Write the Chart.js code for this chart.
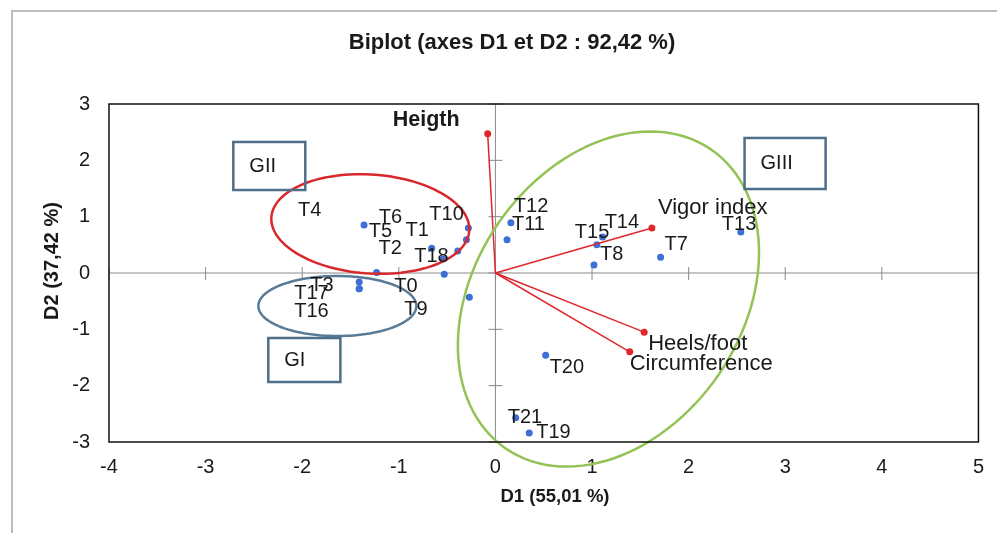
<!DOCTYPE html>
<html>
<head>
<meta charset="utf-8">
<title>Biplot</title>
<script src="https://cdn.jsdelivr.net/npm/chart.js@4.4.1/dist/chart.umd.min.js"></script>
<style>
  body { margin: 0; background: #fff; }
  #wrap { width: 997px; height: 533px; }
</style>
</head>
<body>
<div id="wrap"><canvas id="chart" width="997" height="533"></canvas></div>
<script>
// observations (F1 / F2 scores)
var obsNames = ["T0", "T1", "T2", "T3", "T4", "T5", "T6", "T7", "T8", "T9", "T10",
                "T11", "T12", "T13", "T14", "T15", "T16", "T17", "T18", "T19", "T20", "T21"];
var obsX = [-0.53, -0.30, -1.23, -1.41, -1.36, -0.66, -0.39, 1.71, 1.02, -0.27, -0.28,
            0.12, 0.16, 2.54, 1.11, 1.05, -1.41, -1.41, -0.54, 0.35, 0.52, 0.21];
var obsY = [-0.02, 0.59, 0.01, -0.16, 0.85, 0.44, 0.39, 0.28, 0.14, -0.43, 0.80,
            0.59, 0.89, 0.73, 0.64, 0.50, -0.28, -0.28, 0.25, -2.84, -1.46, -2.57];

// variables (vectors from origin)
var varNames = ["Heigth", "Vigor index", "Heels/foot", "Circumference"];
var varX = [-0.08, 1.62, 1.54, 1.39];
var varY = [2.47, 0.80, -1.05, -1.40];

var xTicks = [-4, -3, -2, -1, 0, 1, 2, 3, 4, 5];
var yTicks = [-3, -2, -1, 0, 1, 2, 3];

var groupNames = ["GI", "GII", "GIII"];

// group outlines: ellipse centre + two conjugate half axes (axis units)
var groupEllipses = [
    { c: [-1.636, -0.586], u: [0.818, 0], v: [0, 0.533], color: "#587b97" },
    { c: [-1.295, 0.87], u: [1.025, -0.09], v: [0, 0.88], color: "#d8282c" },
    { c: [1.170, -0.462], u: [1.061, 2.656], v: [1.142, -1.340], color: "#93c356" }
];
// group name boxes [xmin, xmax, ymin, ymax] in axis units
var groupBoxes = [
    [-2.351, -1.605, -1.935, -1.154],
    [-2.713, -1.968, 1.473, 2.326],
    [2.579, 3.418, 1.491, 2.397]
];

// label nudges in pixels (left edge, vertical middle) from each marker
var obsNudge = {
    T0: [-50, 12], T1: [-61, -9], T2: [2, -24], T3: [-49, 3], T4: [-66, -15],
    T5: [-63, -17], T6: [-79, -34], T7: [4, -13], T8: [6, -11], T9: [-65, 12],
    T10: [-39, -13], T11: [5, -15], T12: [3, -16], T13: [-19, -7], T14: [2, -14],
    T15: [-22, -12], T16: [-65, 23], T17: [-65, 5], T18: [-29, -2], T19: [7, -1],
    T20: [4, 12], T21: [-8, 0]
};
var varNudge = [[-95, -14], [6, -20], [4, 12], [0, 12]];

var FONT = "'Liberation Sans', Arial, sans-serif";
var textColor = "#1a1a1a";

var datasets = [];
varNames.forEach(function(name, i) {
    datasets.push({
        label: name,
        data: [{x: 0, y: 0}, {x: varX[i], y: varY[i]}],
        showLine: true,
        borderColor: "#e0282c",
        borderWidth: 1.5,
        backgroundColor: "#e0282c",
        pointRadius: [0, 3.5],
        pointBorderWidth: 0
    });
});
datasets.push({
    label: "Observations",
    data: obsNames.map(function(n, i) { return {x: obsX[i], y: obsY[i]}; }),
    backgroundColor: "#3e6fd6",
    borderWidth: 0,
    pointRadius: 3.5
});

function px(chart, x, y) {
    return [chart.scales.x.getPixelForValue(x), chart.scales.y.getPixelForValue(y)];
}

var biplotPlugin = {
    id: 'biplot',
    beforeDatasetsDraw: function(chart) {
        var ctx = chart.ctx, a = chart.chartArea;
        var o = px(chart, 0, 0);
        ctx.save();
        ctx.strokeStyle = "#8a8a8a";
        ctx.lineWidth = 1;
        ctx.beginPath();
        ctx.moveTo(a.left, o[1]); ctx.lineTo(a.right, o[1]);
        ctx.moveTo(o[0], a.top); ctx.lineTo(o[0], a.bottom);
        xTicks.forEach(function(t) {
            var p = px(chart, t, 0);
            ctx.moveTo(p[0], o[1] - 6); ctx.lineTo(p[0], o[1] + 7);
        });
        yTicks.forEach(function(t) {
            var p = px(chart, 0, t);
            ctx.moveTo(o[0] - 7, p[1]); ctx.lineTo(o[0] + 7, p[1]);
        });
        ctx.stroke();
        ctx.restore();
    },
    afterDatasetsDraw: function(chart) {
        var ctx = chart.ctx, a = chart.chartArea;
        ctx.save();

        // group ellipses
        groupEllipses.forEach(function(e) {
            ctx.beginPath();
            for (var k = 0; k <= 120; k++) {
                var t = k / 120 * Math.PI * 2;
                var p = px(chart, e.c[0] + e.u[0] * Math.cos(t) + e.v[0] * Math.sin(t),
                                  e.c[1] + e.u[1] * Math.cos(t) + e.v[1] * Math.sin(t));
                if (k === 0) ctx.moveTo(p[0], p[1]); else ctx.lineTo(p[0], p[1]);
            }
            ctx.closePath();
            ctx.strokeStyle = e.color;
            ctx.lineWidth = 2.5;
            ctx.stroke();
        });

        // group boxes
        ctx.font = "20px " + FONT;
        ctx.textBaseline = "middle";
        ctx.textAlign = "left";
        groupBoxes.forEach(function(b, i) {
            var p1 = px(chart, b[0], b[3]), p2 = px(chart, b[1], b[2]);
            ctx.strokeStyle = "#4f6e88";
            ctx.lineWidth = 2.5;
            ctx.strokeRect(p1[0], p1[1], p2[0] - p1[0], p2[1] - p1[1]);
            ctx.fillStyle = textColor;
            ctx.fillText(groupNames[i], p1[0] + 16, (p1[1] + p2[1]) / 2);
        });

        // observation labels
        ctx.fillStyle = textColor;
        obsNames.forEach(function(n, i) {
            var p = px(chart, obsX[i], obsY[i]);
            ctx.fillText(n, p[0] + obsNudge[n][0], p[1] + obsNudge[n][1]);
        });

        // variable labels
        varNames.forEach(function(n, i) {
            var p = px(chart, varX[i], varY[i]);
            ctx.font = (i === 0 ? "bold 21.5px " : "22px ") + FONT;
            ctx.fillText(n, p[0] + varNudge[i][0], p[1] + varNudge[i][1]);
        });

        // plot box
        ctx.strokeStyle = "#111";
        ctx.lineWidth = 1.5;
        ctx.strokeRect(a.left, a.top, a.right - a.left, a.bottom - a.top);

        // outer frame
        ctx.strokeStyle = "#a8a8a8";
        ctx.lineWidth = 1.5;
        ctx.beginPath();
        ctx.moveTo(12, chart.height); ctx.lineTo(12, 11); ctx.lineTo(chart.width, 11);
        ctx.stroke();

        // titles
        ctx.fillStyle = textColor;
        ctx.textAlign = "center";
        ctx.font = "bold 22px " + FONT;
        ctx.fillText("Biplot (axes D1 et D2 : 92,42 %)", 512, 43);
        ctx.font = "bold 18.5px " + FONT;
        ctx.fillText("D1 (55,01 %)", 555, 497);
        ctx.font = "bold 20px " + FONT;
        ctx.translate(52, 261);
        ctx.rotate(-Math.PI / 2);
        ctx.fillText("D2 (37,42 %)", 0, 0);
        ctx.restore();
    }
};

var ctx = document.getElementById("chart");
var chart = new Chart(ctx, {
    type: 'scatter',
    data: { datasets: datasets },
    options: {
        responsive: false,
        animation: false,
        devicePixelRatio: 1,
        layout: { padding: { top: 104, right: 18, bottom: 0, left: 0 } },
        plugins: {
            legend: { display: false },
            tooltip: { enabled: false },
            title: { display: false }
        },
        scales: {
            x: {
                type: 'linear',
                min: -4, max: 5,
                afterFit: function(s) { s.height = 91; },
                grid: { display: false, drawTicks: false },
                border: { display: false },
                ticks: { stepSize: 1, padding: 13, maxRotation: 0,
                         color: textColor, font: { size: 20, family: FONT } }
            },
            y: {
                type: 'linear',
                min: -3, max: 3,
                afterFit: function(s) { s.width = 109; },
                grid: { display: false, drawTicks: false },
                border: { display: false },
                ticks: { stepSize: 1, padding: 19,
                         color: textColor, font: { size: 20, family: FONT } }
            }
        }
    },
    plugins: [biplotPlugin]
});
</script>
</body>
</html>
